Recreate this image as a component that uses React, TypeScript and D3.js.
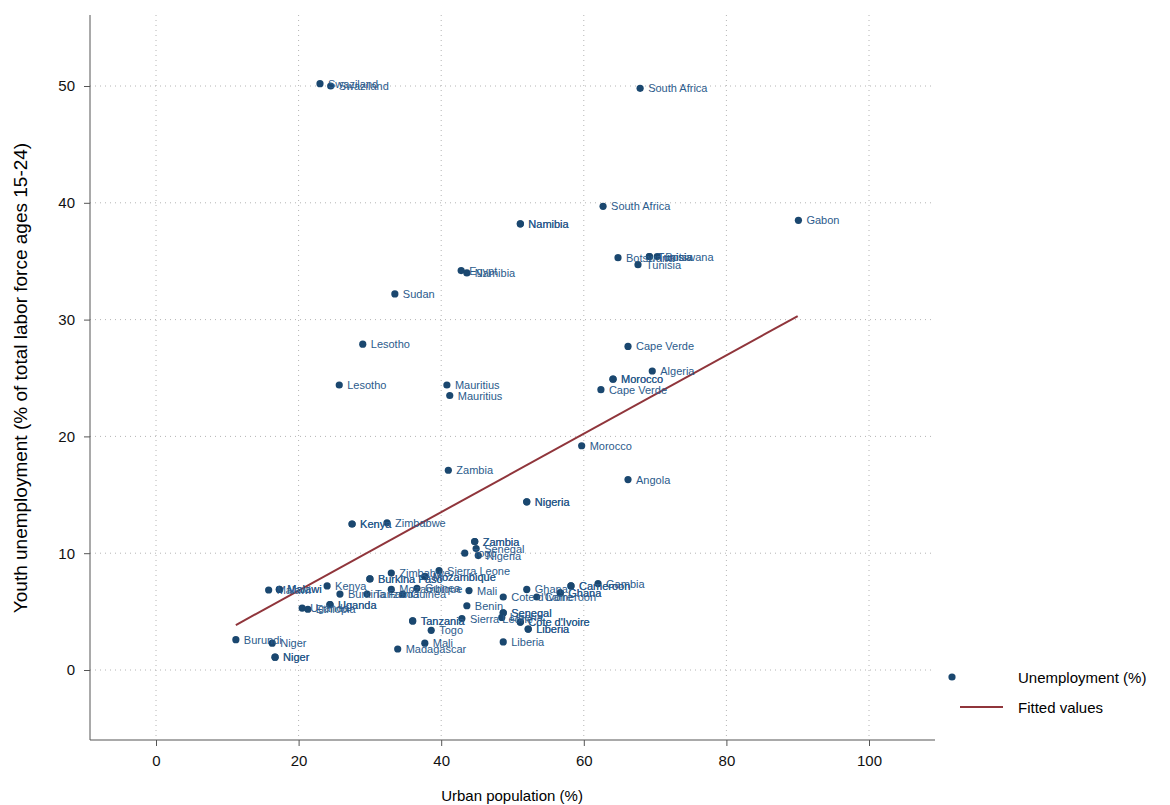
import React, { useEffect, useRef } from 'react';
import * as d3 from 'd3';

// [country, urban %, youth unemployment %]
const points: [string, number, number][] = [
  ['Swaziland', 23.0, 50.2], ['Swaziland', 24.5, 50.0], ['South Africa', 67.9, 49.8], ['South Africa', 62.7, 39.7],
  ['Gabon', 90.1, 38.5], ['Namibia', 51.1, 38.2], ['Namibia', 51.1, 38.2], ['Egypt', 42.8, 34.2], ['Namibia', 43.6, 34.0],
  ['Botswana', 64.8, 35.3], ['Tunisia', 69.2, 35.4], ['Tunisia', 69.2, 35.4], ['Botswana', 70.3, 35.4], ['Tunisia', 67.6, 34.7],
  ['Sudan', 33.5, 32.2], ['Lesotho', 29.0, 27.9], ['Lesotho', 25.7, 24.4], ['Mauritius', 40.8, 24.4], ['Mauritius', 41.2, 23.5],
  ['Cape Verde', 66.2, 27.7], ['Cape Verde', 62.4, 24.0], ['Algeria', 69.6, 25.6], ['Morocco', 64.1, 24.9], ['Morocco', 64.1, 24.9],
  ['Morocco', 59.7, 19.2], ['Angola', 66.2, 16.3], ['Zambia', 41.0, 17.1], ['Nigeria', 52.0, 14.4], ['Nigeria', 52.0, 14.4],
  ['Kenya', 27.5, 12.5], ['Kenya', 27.5, 12.5], ['Zimbabwe', 32.4, 12.6], ['Zambia', 44.7, 11.0], ['Zambia', 44.7, 11.0],
  ['Senegal', 44.9, 10.4], ['Togo', 43.3, 10.0], ['Nigeria', 45.2, 9.8],
  ['Malawi', 15.8, 6.85], ['Malawi', 17.3, 6.9], ['Malawi', 17.3, 6.9], ['Kenya', 24.0, 7.2],
  ['Burkina Faso', 30.0, 7.8], ['Burkina Faso', 30.0, 7.8], ['Burkina Faso', 25.8, 6.5], ['Tanzania', 29.6, 6.5],
  ['Zimbabwe', 33.0, 8.3], ['Mozambique', 33.0, 6.9], ['Mozambique', 37.7, 8.0], ['Mozambique', 37.7, 8.0],
  ['Guinea', 36.6, 7.0], ['Guinea', 34.6, 6.5], ['Sierra Leone', 39.7, 8.5], ['Mali', 43.9, 6.8],
  ['Uganda', 20.5, 5.3], ['Ethiopia', 21.3, 5.2], ['Uganda', 24.4, 5.6], ['Uganda', 24.4, 5.6],
  ['Burundi', 11.2, 2.6], ['Niger', 16.3, 2.3], ['Niger', 16.7, 1.1], ['Niger', 16.7, 1.1],
  ['Tanzania', 36.0, 4.2], ['Tanzania', 36.0, 4.2], ['Togo', 38.6, 3.4], ['Mali', 37.7, 2.3], ['Madagascar', 33.9, 1.8],
  ['Sierra Leone', 42.9, 4.4], ['Benin', 43.6, 5.5], ["Cote d'Ivoire", 48.7, 6.25], ['Liberia', 48.7, 2.4],
  ['Ghana', 52.0, 6.9], ['Cameroon', 53.4, 6.25], ['Cameroon', 58.2, 7.2], ['Cameroon', 58.2, 7.2],
  ['Ghana', 56.7, 6.6], ['Ghana', 56.7, 6.6], ['Gambia', 62.0, 7.4],
  ['Senegal', 48.7, 4.9], ['Senegal', 48.7, 4.9], ['Liberia', 48.5, 4.5], ["Cote d'Ivoire", 51.1, 4.1], ["Cote d'Ivoire", 51.1, 4.1],
  ['Liberia', 52.2, 3.5], ['Liberia', 52.2, 3.5],
];

const fitX = [11.2, 90.0];
const fitY = [3.85, 30.3];
const xTicks = [0, 20, 40, 60, 80, 100];
const yTicks = [0, 10, 20, 30, 40, 50];

const navy = '#1a476f';
const labelCol = '#2b5b8c';
const maroon = '#90353b';
const font = 'Liberation Sans, Arial, sans-serif';

const App: React.FC = () => {
  const ref = useRef<SVGSVGElement>(null);

  useEffect(() => {
    if (!ref.current) return;
    const svg = d3.select(ref.current);
    svg.selectAll('*').remove();

    const L = 90, R = 935, T = 15, B = 740;
    const x = d3.scaleLinear().domain([0, 100]).range([156, 869]);
    const y = d3.scaleLinear().domain([0, 50]).range([670, 86]);

    const grid = svg.append('g').attr('stroke', '#b4b4b4').attr('stroke-dasharray', '1,4');
    xTicks.forEach(t => grid.append('line').attr('x1', x(t)).attr('x2', x(t)).attr('y1', T).attr('y2', B));
    yTicks.forEach(t => grid.append('line').attr('x1', L).attr('x2', R).attr('y1', y(t)).attr('y2', y(t)));

    svg.append('g').attr('transform', `translate(0,${B})`)
      .call(d3.axisBottom(x).tickValues(xTicks).tickSize(6).tickPadding(9).tickSizeOuter(0))
      .call(g => g.select('.domain').attr('d', `M${L},0H${R}`))
      .selectAll('text').style('font-size', '15px').style('font-family', font).attr('fill', '#111');
    svg.append('g').attr('transform', `translate(${L},0)`)
      .call(d3.axisLeft(y).tickValues(yTicks).tickSize(6).tickPadding(9).tickSizeOuter(0))
      .call(g => g.select('.domain').attr('d', `M0,${T}V${B}`))
      .selectAll('text').style('font-size', '15px').style('font-family', font).attr('fill', '#111');
    svg.selectAll('.domain, .tick line').attr('stroke', '#555');

    svg.append('path')
      .attr('d', d3.line<number>().x((d, i) => x(fitX[i])).y((d, i) => y(fitY[i]))(fitX))
      .attr('stroke', maroon).attr('stroke-width', 2).attr('fill', 'none');

    const g = svg.append('g');
    g.selectAll('circle').data(points).enter().append('circle')
      .attr('cx', d => x(d[1])).attr('cy', d => y(d[2])).attr('r', 3.6).attr('fill', navy);
    g.selectAll('text').data(points).enter().append('text')
      .attr('x', d => x(d[1]) + 8).attr('y', d => y(d[2]) + 4)
      .attr('fill', labelCol).style('font-size', '11px').style('font-family', font)
      .text(d => d[0]);

    svg.append('text').attr('transform', 'translate(27,378) rotate(-90)').attr('text-anchor', 'middle')
      .style('font-size', '19px').style('font-family', font)
      .text('Youth unemployment (% of total labor force ages 15-24)');
    svg.append('text').attr('x', 512).attr('y', 801).attr('text-anchor', 'middle')
      .style('font-size', '15px').style('font-family', font).text('Urban population (%)');

    svg.append('circle').attr('cx', 952).attr('cy', 677).attr('r', 3.6).attr('fill', navy);
    svg.append('line').attr('x1', 960).attr('x2', 1003).attr('y1', 707).attr('y2', 707)
      .attr('stroke', maroon).attr('stroke-width', 2);
    svg.append('text').attr('x', 1018).attr('y', 683).style('font-size', '15px').style('font-family', font).text('Unemployment (%)');
    svg.append('text').attr('x', 1018).attr('y', 713).style('font-size', '15px').style('font-family', font).text('Fitted values');
  }, []);

  return (
    <svg ref={ref} width={1170} height={805}
      style={{ position: 'absolute', left: 0, top: 0, background: '#fff' }} />
  );
};

export default App;
